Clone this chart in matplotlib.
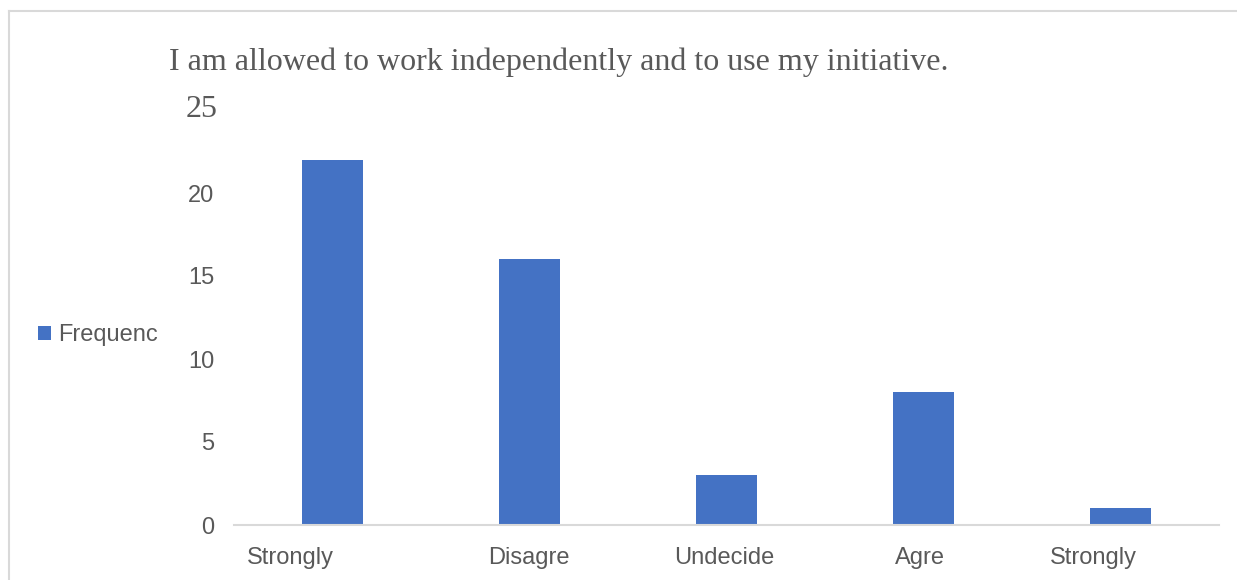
import matplotlib.pyplot as plt
from matplotlib.lines import Line2D

# survey answers
categories = ['Strongly', 'Disagre', 'Undecide', 'Agre', 'Strongly']
frequency = [22, 16, 3, 8, 1]
yticks = [0, 5, 10, 15, 20, 25]
title = 'I am allowed to work independently and to use my initiative.'

bar_color = '#4472C4'
text_color = '#595959'
# truncated labels sit off-centre in the original (pixels)
label_shift = [-42, -1, -2, -4, -27]

fig = plt.figure(figsize=(12.37, 5.8), dpi=100)
ax = fig.add_axes([234 / 1237, 1 - 525 / 580, 985 / 1237, 415 / 580])

x = list(range(len(categories)))
ax.bar(x, frequency, width=0.31, color=bar_color, label='Frequenc', zorder=2)

ax.set_xlim(-0.5, len(categories) - 0.5)
ax.set_ylim(0, 25)
ax.set_xticks(x)
ax.set_xticklabels([])
# category labels drawn by hand so they can be nudged
for i, (name, dx) in enumerate(zip(categories, label_shift)):
    ax.annotate(name, xy=(i, 0), xycoords=ax.get_xaxis_transform(),
                xytext=(dx * 0.72, -16), textcoords='offset points',
                ha='center', va='top', fontsize=17, color=text_color,
                family='Liberation Sans', annotation_clip=False)

ax.set_yticks(yticks)
# top label is drawn separately in the serif font, like the original
ylabels = [str(v) for v in yticks]
ylabels[-1] = ''
ax.set_yticklabels(ylabels, fontsize=17, color=text_color, family='Liberation Sans')
ax.text(-0.017, yticks[-1], str(yticks[-1]), transform=ax.get_yaxis_transform(),
        ha='right', va='center', fontsize=23, color=text_color, family='Liberation Serif')

ax.tick_params(length=0, pad=14)
for s in ['top', 'right', 'left']:
    ax.spines[s].set_visible(False)
ax.spines['bottom'].set_color('#D9D9D9')
ax.spines['bottom'].set_linewidth(1.5)

fig.text(559 / 1237, 1 - 62 / 580, title, ha='center', va='center',
         fontsize=23, color=text_color, family='Liberation Serif')

leg = fig.legend(loc='center left', bbox_to_anchor=(17 / 1237, 1 - 335 / 580),
                 frameon=False, handlelength=0.55, handleheight=0.55, handletextpad=0.3,
                 prop={'family': 'Liberation Sans', 'size': 17})
for t in leg.get_texts():
    t.set_color(text_color)

# chart border: only left and top edges show
fig.add_artist(Line2D([9 / 1237, 9 / 1237], [0, 1 - 11 / 580], color='#D9D9D9', lw=1.5))
fig.add_artist(Line2D([9 / 1237, 1], [1 - 11 / 580, 1 - 11 / 580], color='#D9D9D9', lw=1.5))

fig.savefig('out.png', dpi=100)
